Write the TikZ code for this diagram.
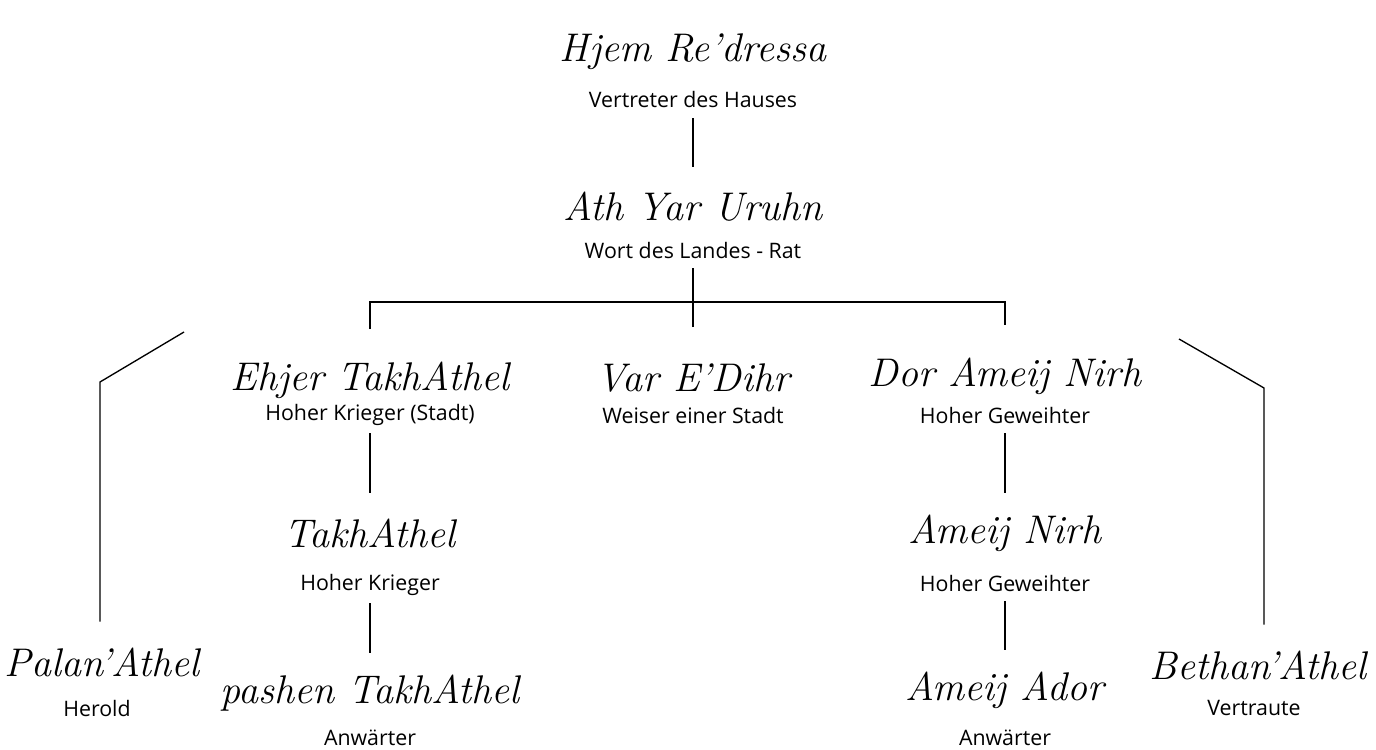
\documentclass[tikz,border=0pt]{standalone}
\usepackage{fontspec}
\newfontfamily\rolefont{Open Sans}
\usetikzlibrary{positioning}
\tikzset{
  ttl/.style={font=\fontsize{30}{30}\selectfont\itshape,inner sep=0pt,minimum height=60pt},
  role/.style={font=\rolefont\fontsize{16}{18}\selectfont,inner sep=0pt,minimum height=27pt},
  link/.style={draw=black,line width=1pt},
}
\begin{document}
\begin{tikzpicture}[x=0.75pt,y=-0.75pt]
  \useasboundingbox (0,0) rectangle (1376,749);
  % house and council
  \node[ttl] (hjem) at (693,52) {Hjem Re’dressa};
  \node[role] (hjem-r) at (693,100) {Vertreter des Hauses};
  \node[ttl] (ath) at (693,207) {Ath Yar Uruhn};
  \node[role] (ath-r) at (693,250) {Wort des Landes - Rat};
  \coordinate (bus) at (693,302);
  % middle row
  \node[ttl,minimum height=76pt] (ehjer) at (370,380) {Ehjer TakhAthel};
  \node[role] (ehjer-r) at (370,415) {Hoher Krieger (Stadt)};
  \node[ttl,minimum height=76pt] (var) at (693,378) {Var E’Dihr};
  \node[role] (var-r) at (693,415) {Weiser einer Stadt};
  \node[ttl,minimum height=76pt] (dor) at (1005,376) {Dor Ameij Nirh};
  \node[role] (dor-r) at (1005,415) {Hoher Geweihter};
  % warriors
  \node[ttl] (takh) at (370,533) {TakhAthel};
  \node[role] (takh-r) at (370,585) {Hoher Krieger};
  \node[ttl] (pashen) at (370,693) {pashen TakhAthel};
  \node[role] (pashen-r) at (370,738) {Anwärter};
  % priests
  \node[ttl] (ameij) at (1005,533) {Ameij Nirh};
  \node[role] (ameij-r) at (1005,583) {Hoher Geweihter};
  \node[ttl] (ador) at (1005,690) {Ameij Ador};
  \node[role] (ador-r) at (1005,738) {Anwärter};
  % sides
  \node[ttl] (palan) at (102,662) {Palan’Athel};
  \node[role] (palan-r) at (97,708) {Herold};
  \node[ttl] (bethan) at (1258,665) {Bethan’Athel};
  \node[role] (bethan-r) at (1254,708) {Vertraute};
  \coordinate (palan-tip) at (184,332);
  \coordinate (bethan-tip) at (1179,339);

  \draw[link] (hjem-r) -- (ath);
  \draw[link] (ath-r) -- (ath-r |- bus);
  \draw[link] (ehjer) -- (ehjer |- bus) -- (dor |- bus) -- (dor);
  \draw[link] (var) -- (var |- bus);
  \draw[link] (ehjer-r) -- (takh);
  \draw[link] (takh-r) -- (pashen);
  \draw[link] (dor-r) -- (ameij);
  \draw[link] (ameij-r) -- (ador);
  \draw[link] (palan-tip) -- ++(-84,50) coordinate (palan-knee) -- (palan-knee |- palan.north);
  \draw[link] (bethan-tip) -- ++(85,49) coordinate (bethan-knee) -- (bethan-knee |- bethan.north);
\end{tikzpicture}
\end{document}
